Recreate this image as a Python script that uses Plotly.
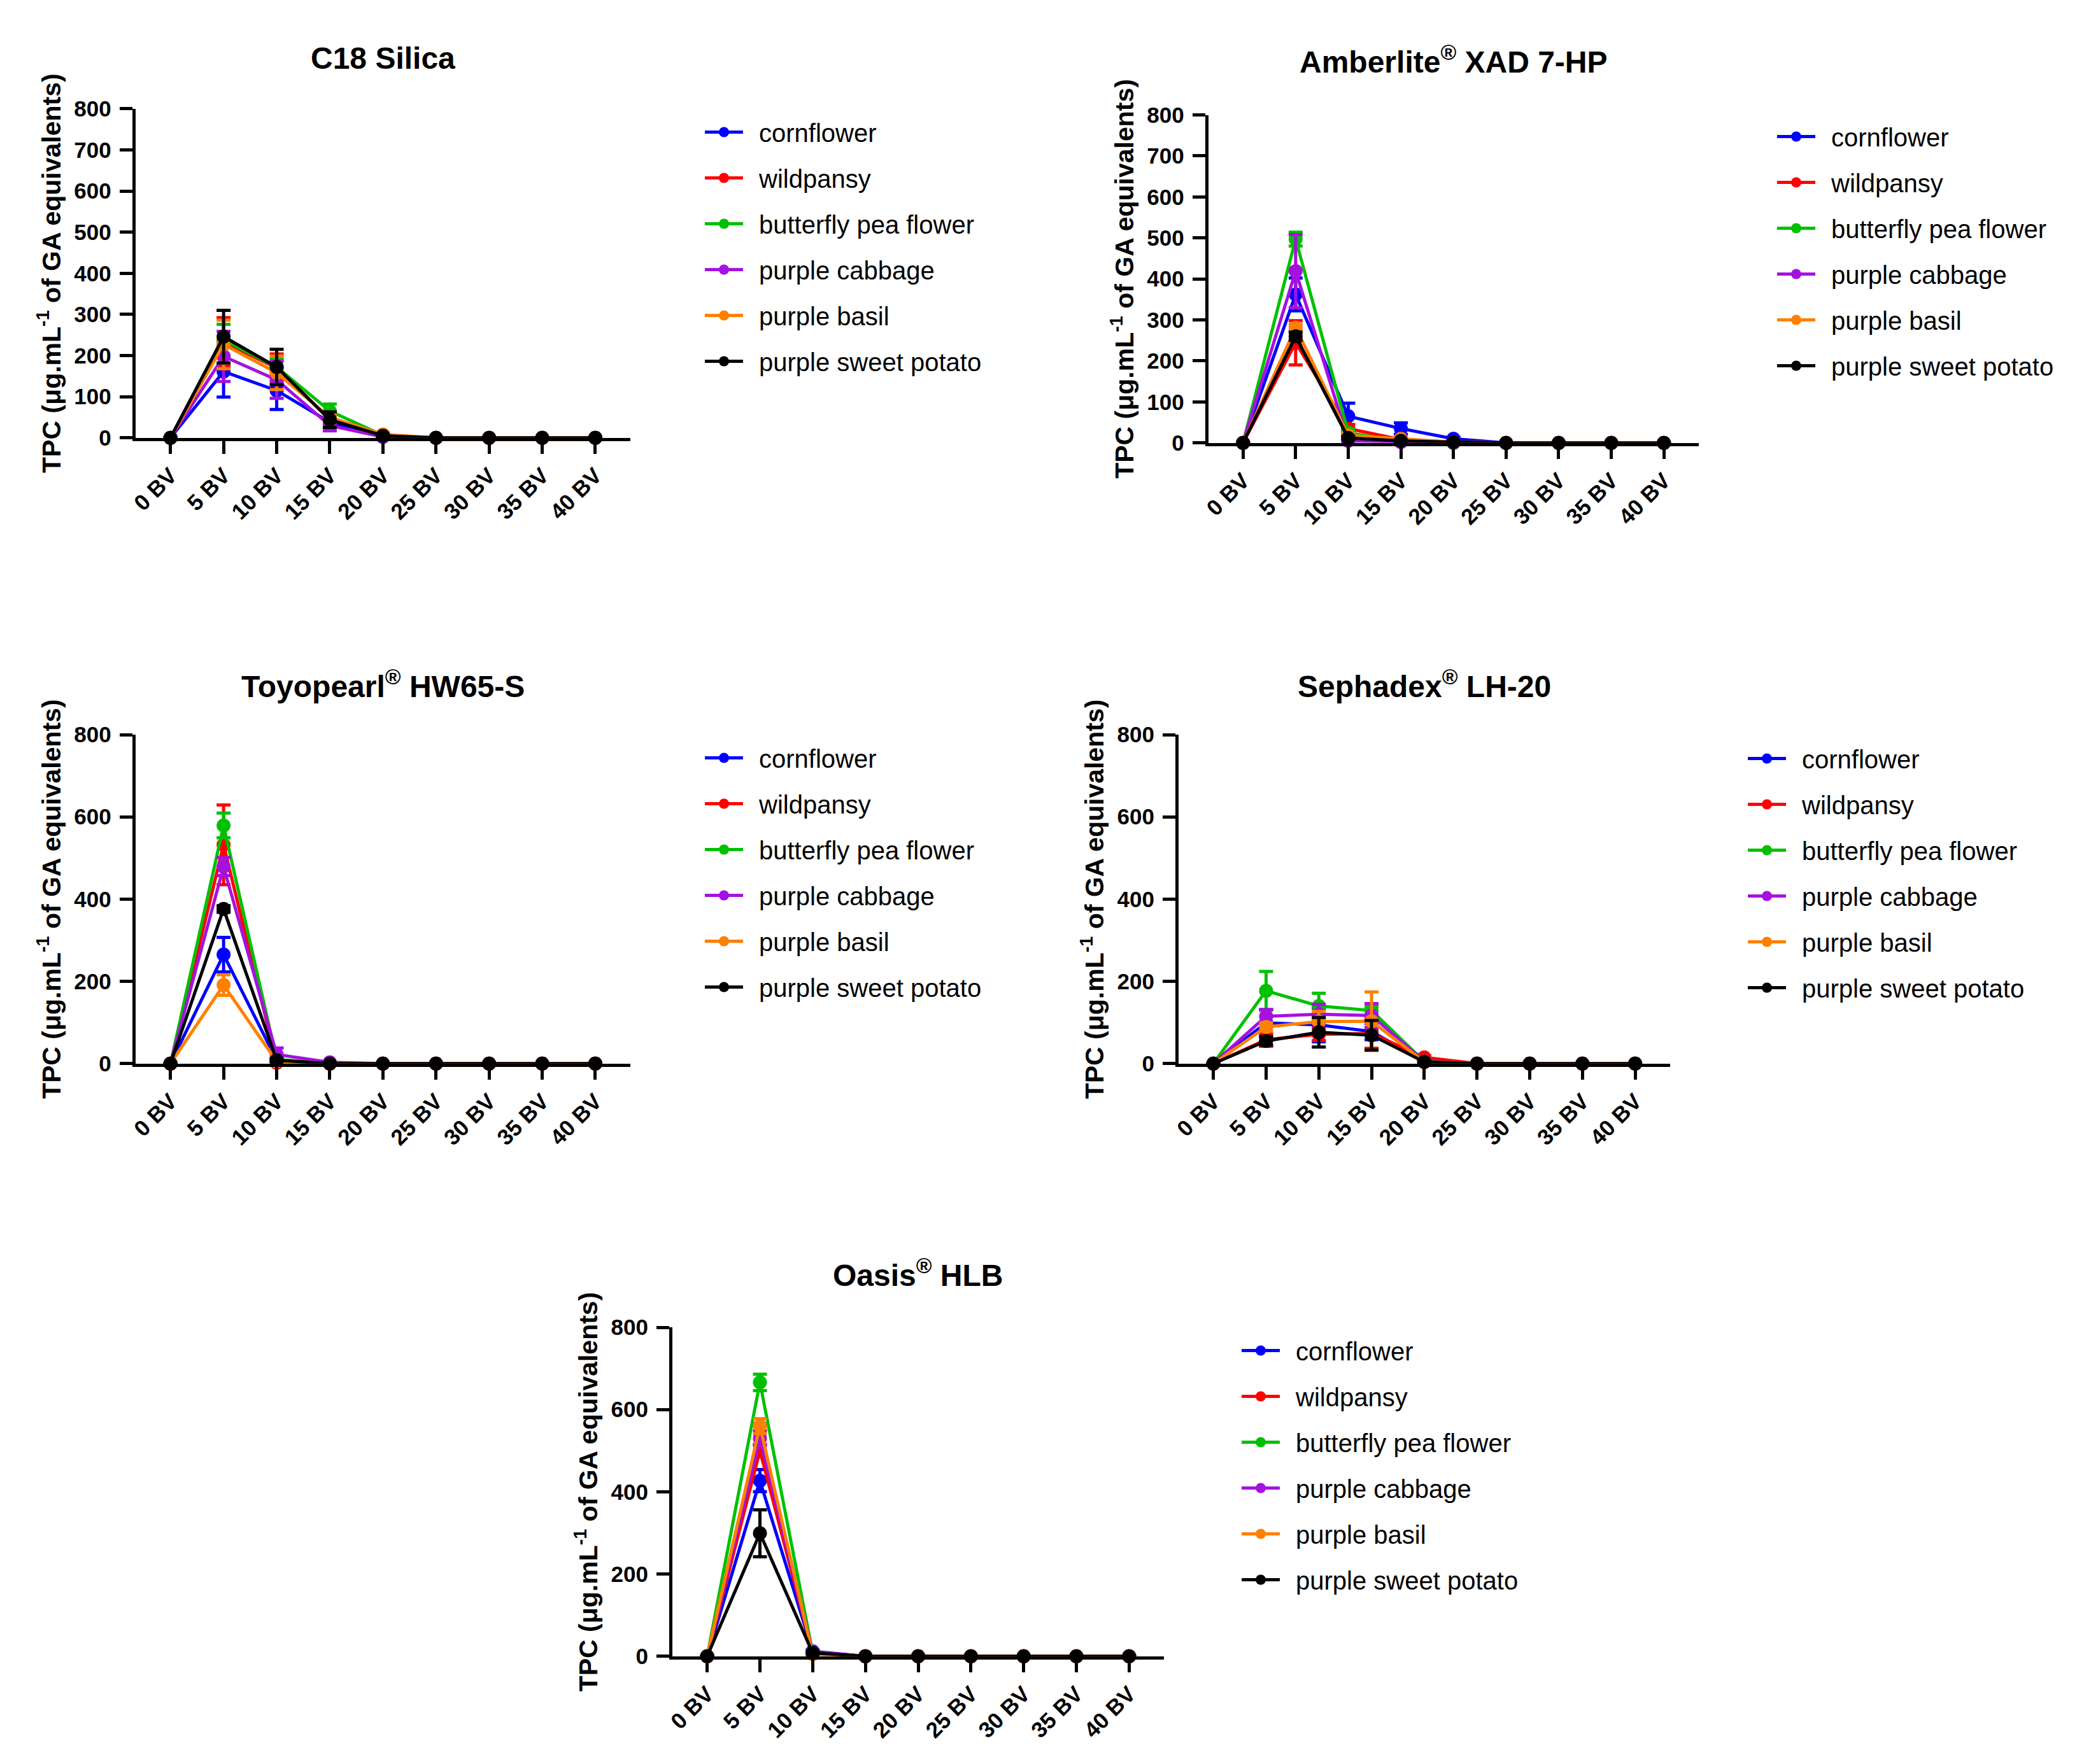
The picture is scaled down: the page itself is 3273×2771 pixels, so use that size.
import plotly.graph_objects as go

W, H = 3273, 2771
OFF = 8  # page body margin offset (px)

categories = ["0 BV", "5 BV", "10 BV", "15 BV", "20 BV", "25 BV", "30 BV", "35 BV", "40 BV"]
series_names = ["cornflower", "wildpansy", "butterfly pea flower", "purple cabbage", "purple basil", "purple sweet potato"]
series_colors = ["#0000FF", "#FF0000", "#00C000", "#A511E0", "#FF8000", "#000000"]

# ---- C18 Silica ----
c18_vals = [
    [0, 161, 115, 38, 3, 0, 0, 0, 0],
    [0, 233, 170, 45, 5, 0, 0, 0, 0],
    [0, 238, 172, 65, 6, 0, 0, 0, 0],
    [0, 198, 141, 30, 2, 0, 0, 0, 0],
    [0, 227, 158, 50, 8, 0, 0, 0, 0],
    [0, 246, 172, 44, 5, 0, 0, 0, 0],
]
c18_err = [
    [0, 62, 46, 8, 2, 0, 0, 0, 0],
    [0, 59, 34, 10, 3, 0, 0, 0, 0],
    [0, 38, 20, 17, 3, 0, 0, 0, 0],
    [0, 61, 45, 13, 2, 0, 0, 0, 0],
    [0, 59, 41, 10, 5, 0, 0, 0, 0],
    [0, 64, 43, 19, 3, 0, 0, 0, 0],
]

# ---- Amberlite XAD 7-HP ----
amb_vals = [
    [0, 362, 65, 35, 10, 0, 0, 0, 0],
    [0, 244, 35, 8, 2, 0, 0, 0, 0],
    [0, 497, 25, 3, 0, 0, 0, 0, 0],
    [0, 419, 5, 2, 0, 0, 0, 0, 0],
    [0, 281, 18, 10, 2, 0, 0, 0, 0],
    [0, 260, 12, 5, 2, 0, 0, 0, 0],
]
amb_err = [
    [0, 40, 32, 14, 3, 0, 0, 0, 0],
    [0, 54, 10, 3, 1, 0, 0, 0, 0],
    [0, 17, 8, 2, 0, 0, 0, 0, 0],
    [0, 89, 3, 1, 0, 0, 0, 0, 0],
    [0, 8, 5, 3, 1, 0, 0, 0, 0],
    [0, 10, 4, 2, 1, 0, 0, 0, 0],
]

# ---- Toyopearl HW65-S ----
toyo_vals = [
    [0, 265, 8, 0, 0, 0, 0, 0, 0],
    [0, 532, 2, 0, 0, 0, 0, 0, 0],
    [0, 579, 10, 1, 0, 0, 0, 0, 0],
    [0, 479, 22, 3, 0, 0, 0, 0, 0],
    [0, 191, 5, 0, 0, 0, 0, 0, 0],
    [0, 376, 8, 0, 0, 0, 0, 0, 0],
]
toyo_err = [
    [0, 42, 3, 0, 0, 0, 0, 0, 0],
    [0, 97, 2, 0, 0, 0, 0, 0, 0],
    [0, 30, 4, 0, 0, 0, 0, 0, 0],
    [0, 22, 16, 1, 0, 0, 0, 0, 0],
    [0, 25, 2, 0, 0, 0, 0, 0, 0],
    [0, 8, 3, 0, 0, 0, 0, 0, 0],
]

# ---- Sephadex LH-20 ----
seph_vals = [
    [0, 99, 94, 78, 5, 0, 0, 0, 0],
    [0, 58, 71, 73, 15, 0, 0, 0, 0],
    [0, 177, 140, 129, 5, 0, 0, 0, 0],
    [0, 115, 120, 117, 5, 0, 0, 0, 0],
    [0, 89, 102, 103, 4, 0, 0, 0, 0],
    [0, 55, 76, 69, 4, 0, 0, 0, 0],
]
seph_err = [
    [0, 32, 41, 20, 2, 0, 0, 0, 0],
    [0, 16, 15, 36, 4, 0, 0, 0, 0],
    [0, 47, 31, 9, 2, 0, 0, 0, 0],
    [0, 16, 24, 29, 2, 0, 0, 0, 0],
    [0, 10, 25, 71, 2, 0, 0, 0, 0],
    [0, 10, 36, 36, 2, 0, 0, 0, 0],
]

# ---- Oasis HLB ----
oasis_vals = [
    [0, 427, 12, 0, 0, 0, 0, 0, 0],
    [0, 500, 10, 0, 0, 0, 0, 0, 0],
    [0, 666, 8, 0, 0, 0, 0, 0, 0],
    [0, 530, 10, 0, 0, 0, 0, 0, 0],
    [0, 560, 5, 0, 0, 0, 0, 0, 0],
    [0, 299, 8, 0, 0, 0, 0, 0, 0],
]
oasis_err = [
    [0, 27, 3, 0, 0, 0, 0, 0, 0],
    [0, 15, 3, 0, 0, 0, 0, 0, 0],
    [0, 20, 2, 0, 0, 0, 0, 0, 0],
    [0, 18, 3, 0, 0, 0, 0, 0, 0],
    [0, 18, 2, 0, 0, 0, 0, 0, 0],
    [0, 57, 2, 0, 0, 0, 0, 0, 0],
]

titles = ["C18 Silica", "Amberlite<sup>®</sup> XAD 7-HP", "Toyopearl<sup>®</sup> HW65-S",
          "Sephadex<sup>®</sup> LH-20", "Oasis<sup>®</sup> HLB"]
y_title = "TPC (μg.mL<sup>-1</sup> of GA equivalents)"
y_dticks = [100, 100, 200, 200, 200]
panel_vals = [c18_vals, amb_vals, toyo_vals, seph_vals, oasis_vals]
panel_errs = [c18_err, amb_err, toyo_err, seph_err, oasis_err]

# layout geometry in page pixels: (left, right, bottom, top)
geom = [
    (212.7, 990, 687.7, 170.9),
    (1897.7, 2667.7, 695.7, 180.5),
    (212.7, 990, 1670.7, 1154),
    (1851, 2622.7, 1670.7, 1154),
    (1056, 1828, 2601.7, 2085),
]
title_gap = [79, 87, 79, 79, 85]
# legend: symbol start x, first row center y (page pixels)
leg_pos = [(1102, 208), (2786, 215), (1102, 1191), (2740, 1192), (1945, 2122)]


def fx(v):
    return (v - OFF) / W


def fy(v):
    return 1 - (v - OFF) / H


FONT = "Liberation Sans, Arial, sans-serif"

fig = go.Figure()
layout = dict(
    width=W, height=H, margin=dict(l=0, r=0, t=0, b=0, autoexpand=False),
    paper_bgcolor="white", plot_bgcolor="white",
    font=dict(family=FONT, color="black"),
    annotations=[],
)

for i in range(5):
    sfx = "" if i == 0 else str(i + 1)
    for j, name in enumerate(series_names):
        col = series_colors[j]
        fig.add_trace(go.Scatter(
            x=categories, y=panel_vals[i][j],
            error_y=dict(type="data", array=panel_errs[i][j], visible=True,
                         thickness=5, width=11, color=col),
            mode="lines+markers",
            line=dict(color=col, width=5),
            marker=dict(size=22, color=col),
            name="\u2002" + name,
            xaxis="x" + sfx, yaxis="y" + sfx,
            legend="legend" + sfx,
            legendgroup=f"g{i}_{j}",
            cliponaxis=False,
        ))
    l, r, b, t = geom[i]
    layout["xaxis" + sfx] = dict(
        domain=[fx(l), fx(r)], anchor="y" + sfx, type="category",
        range=[-0.66, 8.66], showline=True, linewidth=5, linecolor="black",
        ticks="outside", ticklen=20, tickwidth=5, tickcolor="black",
        tickangle=-45, showgrid=False, zeroline=False, automargin=False,
        tickfont=dict(size=35, family=FONT, weight="bold"),
    )
    layout["yaxis" + sfx] = dict(
        domain=[fy(b), fy(t)], anchor="x" + sfx,
        range=[0, 800], dtick=y_dticks[i], tick0=0,
        showline=True, linewidth=5, linecolor="black",
        ticks="outside", ticklen=20, tickwidth=5, tickcolor="black",
        showgrid=False, zeroline=False, ticklabelstandoff=6, automargin=False,
        tickfont=dict(size=35, family=FONT, weight="bold"),
    )
    lx, ly = leg_pos[i]
    layout["legend" + sfx] = dict(
        x=(lx - 8) / W, y=1 - (ly - 41) / H, xanchor="left", yanchor="top",
        xref="container", yref="container",
        font=dict(size=40, family=FONT), itemwidth=60,
        tracegroupgap=17, bgcolor="rgba(0,0,0,0)", borderwidth=0,
        traceorder="grouped",
    )
    # panel title
    layout["annotations"].append(dict(
        text=titles[i], x=fx((l + r) / 2), y=fy(t - title_gap[i]),
        xref="paper", yref="paper", xanchor="center", yanchor="middle",
        showarrow=False, font=dict(size=48, family=FONT, weight="bold"),
    ))
    # y-axis title
    layout["annotations"].append(dict(
        text=y_title, x=fx(l - 135), y=fy((t + b) / 2), textangle=-90,
        xref="paper", yref="paper", xanchor="center", yanchor="middle",
        showarrow=False, font=dict(size=41, family=FONT, weight="bold"),
    ))

fig.update_layout(**layout)
fig.write_html("out.html")
